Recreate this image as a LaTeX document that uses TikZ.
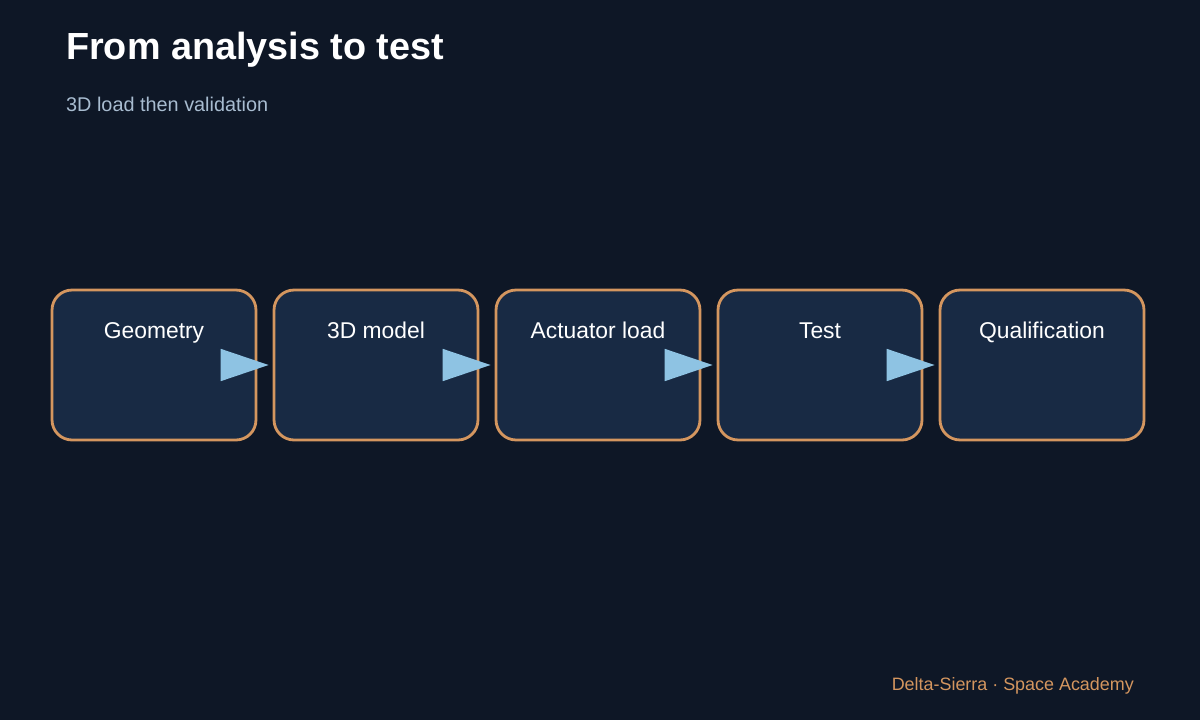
\documentclass[tikz,border=0pt]{standalone}
\usepackage{fontspec}
\setmainfont{Liberation Sans}
\usetikzlibrary{arrows.meta}
\definecolor{bg}{HTML}{0E1726}
\definecolor{boxfill}{HTML}{182A44}
\definecolor{edge}{HTML}{D4965F}
\definecolor{arr}{HTML}{8EC3E3}
\definecolor{sub}{HTML}{A8BCD0}
\begin{document}
\begin{tikzpicture}[x=0.02cm,y=-0.02cm,
  stagebox/.style={draw=edge,line width=1.6pt,fill=boxfill,rounded corners=0.4cm,minimum width=4.08cm,minimum height=3cm,inner sep=0pt},
  lab/.style={text=white,font=\fontsize{13}{15}\selectfont,anchor=base},
  conn/.style={draw=arr,line width=1pt,-{Triangle[length=0.96cm,width=0.64cm,fill=arr]},shorten >=0.08cm}]
\fill[bg] (0,0) rectangle (1200,720);
\useasboundingbox (0,0) rectangle (1200,720);
\node[anchor=base west,text=white,font=\bfseries\fontsize{21.5}{24}\selectfont] (title) at (60,59) {From analysis to test};
\node[anchor=base west,text=sub,font=\fontsize{11.3}{13}\selectfont] (subt) at (60,111) {3D load then validation};
\foreach \i/\x/\t in {1/154/Geometry,2/376/3D model,3/598/Actuator load,4/820/Test,5/1042/Qualification}{
  \node[stagebox] (b\i) at (\x,365) {};
  \node[lab] (l\i) at (\x,338) {\t};
}
\foreach \a/\b in {1/2,2/3,3/4,4/5}{
  \draw[conn] (b\a.east) -- (b\b.west);
}
\node[anchor=base east,text=edge,font=\fontsize{10.2}{12}\selectfont] (foot) at (1140,690) {Delta-Sierra · Space Academy};
\end{tikzpicture}
\end{document}
